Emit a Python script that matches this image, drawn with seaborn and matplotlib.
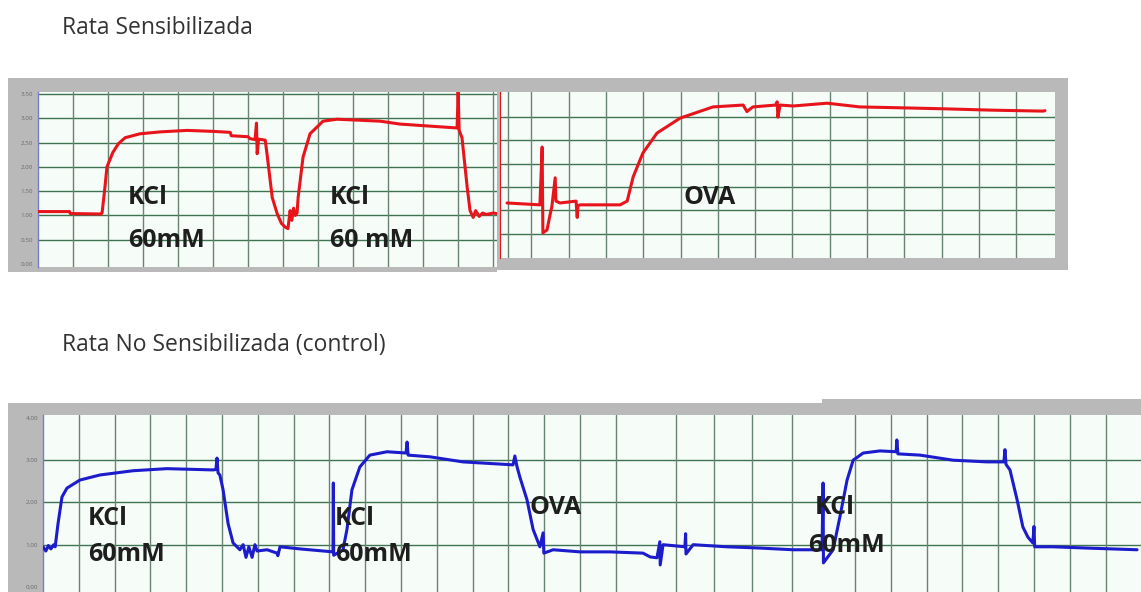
import numpy as np
import pandas as pd
import matplotlib
matplotlib.use("Agg")
import matplotlib.pyplot as plt
import seaborn as sns

# ---------------- data ----------------
title_top = "Rata Sensibilizada"
title_bottom = "Rata No Sensibilizada (control)"

# Sensitised rat, first recording (time in grid divisions, tension in g)
sens1_t = [0.0, 0.9, 0.92, 1.80, 1.83, 1.9, 1.97, 2.14, 2.3, 2.49, 2.91, 3.5, 4.26, 5.0, 5.49,
           5.52, 6.0, 6.06, 6.2, 6.24, 6.26, 6.3, 6.49, 6.54, 6.69, 6.83, 6.95, 7.06, 7.14,
           7.2, 7.25, 7.3, 7.35, 7.4, 7.43, 7.57, 7.77, 8.14, 8.54, 9.77, 10.34, 11.97, 12.0,
           12.03, 12.11, 12.26, 12.34, 12.43, 12.5, 12.6, 12.7, 12.8, 13.0, 13.1]
sens1_v = [1.08, 1.08, 1.04, 1.03, 1.05, 1.5, 2.0, 2.3, 2.48, 2.6, 2.68, 2.72, 2.75, 2.73, 2.71,
           2.64, 2.62, 2.58, 2.56, 2.9, 2.27, 2.57, 2.55, 2.27, 1.37, 1.04, 0.84, 0.76, 0.73,
           1.1, 0.9, 1.15, 1.0, 1.05, 1.37, 2.2, 2.68, 2.94, 2.98, 2.94, 2.88, 2.8, 3.55,
           2.75, 2.6, 1.57, 1.1, 0.96, 1.1, 0.98, 1.05, 1.02, 1.05, 1.04]

# Sensitised rat, OVA recording
sens2_t = [0.35, 1.23, 1.29, 1.31, 1.42, 1.5, 1.55, 1.64, 1.66, 1.77, 2.2, 2.23, 2.25, 2.31,
           3.38, 3.57, 3.73, 3.99, 4.37, 4.99, 5.87, 6.68, 6.78, 6.94, 7.55, 7.59, 7.61, 7.67,
           8.02, 8.93, 9.81, 10.97, 12.04, 13.38, 14.72, 14.77]
sens2_v = [1.16, 1.12, 2.36, 0.52, 0.58, 0.9, 1.08, 1.7, 1.2, 1.16, 1.2, 0.85, 1.1, 1.12,
           1.12, 1.2, 1.72, 2.23, 2.66, 2.98, 3.22, 3.26, 3.12, 3.22, 3.26, 3.33, 3.0, 3.26,
           3.24, 3.3, 3.22, 3.2, 3.18, 3.15, 3.13, 3.14]

# Control rat
ctrl_t = [0.0, 0.08, 0.15, 0.22, 0.3, 0.34, 0.42, 0.53, 0.67, 1.03, 1.59, 2.51, 3.46, 4.75,
          4.83, 4.86, 4.89, 4.94, 5.03, 5.17, 5.31, 5.5, 5.59, 5.67, 5.75, 5.84, 5.92, 5.98,
          6.26, 6.54, 6.56, 6.62, 7.18, 8.1, 8.11, 8.12, 8.38, 8.49, 8.63, 8.85, 9.13, 9.61,
          10.14, 10.17, 10.2, 10.81, 11.73, 13.13, 13.18, 13.24, 13.32, 13.52, 13.69, 13.88,
          13.97, 13.99, 14.25, 15.0, 15.84, 16.76, 16.96, 17.15, 17.23, 17.24, 17.32, 17.93,
          17.95, 17.96, 18.16, 19.1, 20.03, 20.95, 21.76, 21.79, 21.8, 22.07, 22.26, 22.46,
          22.63, 22.91, 23.38, 23.83, 23.85, 23.88, 24.5, 25.42, 26.37, 26.84, 26.87, 26.9,
          27.01, 27.21, 27.37, 27.51, 27.65, 27.68, 27.7, 28.21, 29.16, 30.56]
ctrl_v = [0.95, 0.85, 0.98, 0.9, 1.0, 0.95, 1.5, 2.13, 2.34, 2.53, 2.65, 2.75, 2.8, 2.77,
          2.78, 3.05, 2.7, 2.65, 2.3, 1.5, 1.04, 0.88, 1.0, 0.7, 0.95, 0.7, 1.0, 0.85,
          0.88, 0.8, 0.74, 0.95, 0.9, 0.83, 2.46, 0.75, 0.88, 1.36, 2.3, 2.84, 3.12, 3.2,
          3.17, 3.43, 3.12, 3.08, 2.96, 2.89, 3.1, 2.85, 2.6, 2.06, 1.36, 0.95,
          1.28, 0.8, 0.88, 0.83, 0.83, 0.8, 0.71, 0.69, 1.07, 0.52, 1.0, 0.95,
          1.26, 0.78, 1.0, 0.95, 0.92, 0.88, 0.88, 2.46, 0.57, 0.88, 1.66, 2.53,
          3.0, 3.17, 3.22, 3.2, 3.48, 3.15, 3.12, 3.0, 2.96, 2.96, 3.25, 2.9,
          2.77, 2.06, 1.42, 1.18, 1.04, 1.43, 0.95, 0.95, 0.92, 0.88]

top_ticks = [0.0, 0.5, 1.0, 1.5, 2.0, 2.5, 3.0, 3.5]
bottom_ticks = [0.0, 1.0, 2.0, 3.0, 4.0]

# labels: (text, x, y)
labels_sens1 = [("KCl", 2.57, 1.36), ("60mM", 2.57, 0.49), ("KCl", 8.34, 1.36), ("60 mM", 8.34, 0.49)]
labels_sens2 = [("OVA", 5.07, 1.27)]
labels_ctrl = [("KCl", 1.26, 1.63), ("60mM", 1.26, 0.76), ("KCl", 8.16, 1.63), ("60mM", 8.16, 0.76),
               ("OVA", 13.6, 1.87), ("KCl", 21.56, 1.87), ("60mM", 21.37, 0.99)]

# ---------------- style ----------------
sns.set_style("white")
plt.rcParams['font.family'] = ['Open Sans', 'DejaVu Sans']

W, H = 1141, 592
fig = plt.figure(figsize=(W / 100, H / 100), dpi=100)


def box(x0, y0, x1, y1):
    return [x0 / W, 1 - y1 / H, (x1 - x0) / W, (y1 - y0) / H]


GRAY = '#b9b9b9'
BG = '#f6fcf8'
HGRID = '#3f7450'
VGRID = '#6a8272'


def gray_frame(x0, y0, x1, y1):
    a = fig.add_axes(box(x0, y0, x1, y1))
    a.set_facecolor(GRAY)
    a.set_xticks([])
    a.set_yticks([])
    for s in a.spines.values():
        s.set_visible(False)
    return a


def trace_axes(rect, xlim, ylim, hgrid, vgrid, ticks):
    ax = fig.add_axes(rect)
    ax.set_facecolor(BG)
    ax.set_xlim(*xlim)
    ax.set_ylim(*ylim)
    for g in hgrid:
        ax.axhline(g, color=HGRID, lw=1.0, zorder=1)
    for g in vgrid:
        ax.axvline(g, color=VGRID, lw=1.0, zorder=1)
    ax.set_xticks([])
    ax.set_yticks(ticks)
    ax.set_yticklabels([f"{t:.2f}" for t in ticks])
    ax.tick_params(axis='y', direction='out', length=2.5, width=0.6, color='#777777',
                   labelsize=4.5, labelcolor='#6a6a6a', pad=1)
    for s in ['top', 'right', 'bottom']:
        ax.spines[s].set_visible(False)
    ax.spines['left'].set_color('#7a7ac8')
    ax.spines['left'].set_linewidth(1.0)
    ax.set_xlabel("")
    ax.set_ylabel("")
    return ax


def draw(ax, t, v, color):
    df = pd.DataFrame({"t": t, "v": v})
    sns.lineplot(data=df, x="t", y="v", ax=ax, color=color, lw=2.2, sort=False,
                 estimator=None, zorder=3, legend=False)
    ax.set_xlabel("")
    ax.set_ylabel("")


def put_labels(ax, labels):
    for txt, x, y in labels:
        ax.text(x, y, txt, fontsize=18, fontweight='bold', color='#1e1e1e',
                ha='left', va='center', zorder=4)


# titles
fig.text(62 / W, 1 - 28 / H, title_top, fontsize=16.5, color='#333333', va='center', ha='left')
fig.text(62 / W, 1 - 345 / H, title_bottom, fontsize=16.5, color='#333333', va='center', ha='left')

# ---- top left panel ----
gray_frame(8, 78, 497, 272)
ax1 = trace_axes(box(38, 92, 497, 267), (0, 13.11), (-0.06, 3.54),
                 [0.5, 1.0, 1.5, 2.0, 2.5, 3.0, 3.5], np.arange(1, 14), top_ticks)
draw(ax1, sens1_t, sens1_v, '#e8141c')
put_labels(ax1, labels_sens1)

# ---- top right panel ----
gray_frame(497, 78, 1068, 270)
ax2 = trace_axes(box(500, 92, 1055, 258), (0.16, 15.04), (-0.02, 3.54),
                 [0.5, 1.0, 1.5, 2.0, 2.5, 3.0], list(np.arange(1, 15)) + [0.38], [])
ax2.spines['left'].set_color('#e8141c')
ax2.spines['left'].set_linewidth(0.8)
ax2.tick_params(axis='y', length=0)
draw(ax2, sens2_t, sens2_v, '#e8141c')
put_labels(ax2, labels_sens2)

# ---- bottom panel ----
gray_frame(8, 403, 1141, 592)
gray_frame(822, 399, 1141, 412)
bgrid = list(np.arange(1, 17)) + [17.68, 18.74, 19.8, 20.92] + list(22.68 + np.arange(8))
ax3 = trace_axes(box(43, 415, 1141, 592), (0, 30.67), (-0.12, 4.07),
                 [1.0, 2.0, 3.0], bgrid, bottom_ticks)
draw(ax3, ctrl_t, ctrl_v, '#1c1ccc')
put_labels(ax3, labels_ctrl)

fig.savefig("out.png", dpi=100)
